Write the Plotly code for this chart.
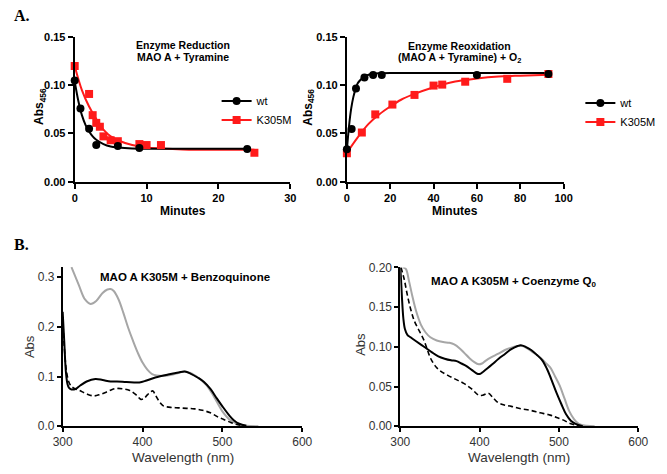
import plotly.graph_objects as go

W, H = 667, 474

# ---------------- Panel A1: Enzyme Reduction ----------------
red_wt_t = [0, 0.8, 2, 3, 6, 9, 24]
red_wt_abs = [0.105, 0.076, 0.055, 0.038, 0.037, 0.035, 0.034]
red_k_t = [0, 2, 2.5, 3, 3.5, 4, 5, 6, 9, 10, 12, 25]
red_k_abs = [0.120, 0.091, 0.069, 0.061, 0.057, 0.047, 0.043, 0.042, 0.039, 0.038, 0.038, 0.030]
red_wt_fit_t = [0, 0.5, 1, 1.5, 2, 2.5, 3, 4, 5, 6, 8, 12, 24]
red_wt_fit = [0.104, 0.084, 0.069, 0.059, 0.052, 0.047, 0.0435, 0.039, 0.0365, 0.0355, 0.0345, 0.0342, 0.0342]
red_k_fit_t = [0, 1, 2, 3, 4, 5, 6, 8, 10, 12, 15, 20, 25]
red_k_fit = [0.120, 0.095, 0.078, 0.065, 0.054, 0.047, 0.043, 0.038, 0.0355, 0.0345, 0.0335, 0.033, 0.033]

# ---------------- Panel A2: Enzyme Reoxidation ----------------
ox_wt_t = [0, 2.2, 4.2, 8.1, 12.1, 16.1, 60, 93]
ox_wt_abs = [0.0336, 0.0547, 0.0966, 0.108, 0.1107, 0.1107, 0.1107, 0.1117]
ox_k_t = [0, 6.9, 13.1, 21, 31.2, 40, 44, 54.6, 74, 93]
ox_k_abs = [0.0295, 0.051, 0.0698, 0.080, 0.090, 0.0997, 0.1007, 0.1037, 0.1067, 0.1117]
ox_wt_fit_t = [0, 1, 2, 3, 4, 5, 6, 8, 10, 12, 16, 20, 40, 60, 93]
ox_wt_fit = [0.033, 0.058, 0.076, 0.088, 0.096, 0.102, 0.105, 0.109, 0.111, 0.112, 0.1125, 0.1128, 0.1128, 0.1128, 0.1128]
ox_k_fit_t = [0, 5, 10, 15, 20, 25, 30, 40, 50, 60, 70, 80, 93]
ox_k_fit = [0.030, 0.046, 0.060, 0.070, 0.078, 0.085, 0.090, 0.098, 0.104, 0.107, 0.109, 0.110, 0.111]

# ---------------- Panel B1: K305M + Benzoquinone ----------------
bq_grey_wl = [311, 320, 328, 335, 342, 350, 356, 360, 364, 370, 376, 382, 388, 394, 400, 406, 412,
              418, 425, 435, 445, 452, 460, 470, 480, 490, 500, 510, 520, 530, 545]
bq_grey = [0.32, 0.285, 0.255, 0.246, 0.252, 0.268, 0.275, 0.276, 0.272, 0.255, 0.228, 0.198, 0.172,
           0.148, 0.128, 0.114, 0.105, 0.102, 0.101, 0.103, 0.107, 0.110, 0.107, 0.097, 0.083, 0.058,
           0.030, 0.012, 0.004, 0.001, 0.0]
bq_black_wl = [300, 302, 304, 306, 308, 311, 316, 322, 330, 341, 350, 360, 368, 380, 396, 405, 416,
               432, 445, 453, 460, 470, 477, 485, 493, 500, 509, 515, 521, 530]
bq_black = [0.23, 0.17, 0.11, 0.085, 0.077, 0.074, 0.075, 0.082, 0.090, 0.095, 0.093, 0.090, 0.090,
            0.089, 0.088, 0.092, 0.098, 0.104, 0.108, 0.110, 0.106, 0.097, 0.089, 0.075, 0.056, 0.040,
            0.021, 0.011, 0.005, 0.001]
bq_dash_wl = [300, 302, 305, 308, 311, 316, 321, 330, 339, 347, 355, 362, 368, 376, 384, 392, 398,
              402, 406, 410, 413, 416, 420, 426, 435, 445, 455, 465, 475, 485, 495, 501, 510, 517, 525]
bq_dash = [0.22, 0.16, 0.108, 0.088, 0.080, 0.075, 0.072, 0.065, 0.061, 0.064, 0.069, 0.074, 0.076,
           0.075, 0.072, 0.063, 0.054, 0.056, 0.063, 0.069, 0.071, 0.063, 0.052, 0.041, 0.038, 0.037,
           0.036, 0.035, 0.032, 0.027, 0.018, 0.014, 0.008, 0.004, 0.001]

# ---------------- Panel B2: K305M + Coenzyme Q0 ----------------
cq_grey_wl = [303, 307, 311, 315, 320, 326, 332, 338, 346, 354, 362, 368, 375, 381, 387, 393, 399,
              403, 407, 415, 423, 432, 440, 448, 454, 460, 466, 472, 478, 484, 489, 495, 501, 507,
              513, 519, 525, 535, 545]
cq_grey = [0.20, 0.198, 0.183, 0.165, 0.145, 0.128, 0.118, 0.112, 0.108, 0.106, 0.105, 0.103, 0.098,
           0.092, 0.086, 0.081, 0.078, 0.079, 0.082, 0.087, 0.091, 0.096, 0.099, 0.101, 0.101, 0.098,
           0.094, 0.090, 0.085, 0.079, 0.074, 0.063, 0.051, 0.035, 0.019, 0.009, 0.003, 0.0005, 0.0]
cq_black_wl = [300, 301, 302, 304, 306, 309, 313, 320, 330, 340, 348, 356, 364, 371, 377, 383, 390,
               397, 401, 405, 410, 416, 424, 432, 440, 448, 452, 458, 465, 472, 479, 485, 490, 497,
               503, 509, 515, 521, 530]
cq_black = [0.20, 0.185, 0.165, 0.135, 0.122, 0.115, 0.112, 0.107, 0.100, 0.093, 0.088, 0.085, 0.083,
            0.082, 0.079, 0.076, 0.071, 0.066, 0.066, 0.069, 0.073, 0.078, 0.085, 0.091, 0.097, 0.101,
            0.102, 0.100, 0.096, 0.090, 0.083, 0.072, 0.060, 0.042, 0.028, 0.015, 0.007, 0.003, 0.0]
cq_dash_wl = [301, 305, 309, 313, 318, 324, 330, 335, 338, 344, 350, 360, 370, 380, 390, 399, 404,
              411, 416, 423, 430, 440, 452, 464, 476, 489, 497, 505, 513, 521, 528]
cq_dash = [0.20, 0.185, 0.165, 0.148, 0.132, 0.120, 0.108, 0.094, 0.086, 0.076, 0.070, 0.064, 0.059,
           0.054, 0.047, 0.039, 0.039, 0.0415, 0.037, 0.030, 0.027, 0.025, 0.022, 0.020, 0.017, 0.014,
           0.011, 0.008, 0.004, 0.0015, 0.0]

series_names = ["wt", "K305M"]

RED = "#ff1a1a"
SANS = "Liberation Sans, Arial, sans-serif"
SERIF = "Liberation Serif, Times New Roman, serif"


def px(x):
    return x / W


def py(y):
    return 1 - y / H


fig = go.Figure()


def kinetic_panel(xa, ya, leg, wt_t, wt_v, wt_ft, wt_fv, k_t, k_v, k_ft, k_fv):
    fig.add_trace(go.Scatter(x=k_ft, y=k_fv, mode="lines", line=dict(color=RED, width=2, shape="spline"),
                             showlegend=False, xaxis=xa, yaxis=ya, hoverinfo="skip"))
    fig.add_trace(go.Scatter(x=wt_ft, y=wt_fv, mode="lines", line=dict(color="black", width=2, shape="spline"),
                             showlegend=False, xaxis=xa, yaxis=ya, hoverinfo="skip"))
    fig.add_trace(go.Scatter(x=k_t, y=k_v, mode="markers", name=series_names[1], showlegend=False,
                             marker=dict(symbol="square", size=8, color=RED),
                             xaxis=xa, yaxis=ya, cliponaxis=False))
    fig.add_trace(go.Scatter(x=wt_t, y=wt_v, mode="markers", name=series_names[0], showlegend=False,
                             marker=dict(symbol="circle", size=8, color="black"),
                             xaxis=xa, yaxis=ya, cliponaxis=False))
    # legend entries (line + symbol, as in the original key)
    fig.add_trace(go.Scatter(x=[None], y=[None], mode="lines+markers", name=series_names[0],
                             marker=dict(symbol="circle", size=8, color="black"),
                             line=dict(color="black", width=2), legend=leg, legendrank=1,
                             xaxis=xa, yaxis=ya))
    fig.add_trace(go.Scatter(x=[None], y=[None], mode="lines+markers", name=series_names[1],
                             marker=dict(symbol="square", size=8, color=RED),
                             line=dict(color=RED, width=2), legend=leg, legendrank=2,
                             xaxis=xa, yaxis=ya))


kinetic_panel("x", "y", "legend", red_wt_t, red_wt_abs, red_wt_fit_t, red_wt_fit,
              red_k_t, red_k_abs, red_k_fit_t, red_k_fit)
kinetic_panel("x2", "y2", "legend2", ox_wt_t, ox_wt_abs, ox_wt_fit_t, ox_wt_fit,
              ox_k_t, ox_k_abs, ox_k_fit_t, ox_k_fit)


def spectra_panel(xa, ya, gx, gy, dx, dy, bx, by):
    fig.add_trace(go.Scatter(x=gx, y=gy, mode="lines", line=dict(color="#a6a6a6", width=2, shape="spline"),
                             showlegend=False, xaxis=xa, yaxis=ya))
    fig.add_trace(go.Scatter(x=dx, y=dy, mode="lines",
                             line=dict(color="black", width=1.6, dash="5px,3px", shape="spline"),
                             showlegend=False, xaxis=xa, yaxis=ya))
    fig.add_trace(go.Scatter(x=bx, y=by, mode="lines", line=dict(color="black", width=2, shape="spline"),
                             showlegend=False, xaxis=xa, yaxis=ya))


spectra_panel("x3", "y3", bq_grey_wl, bq_grey, bq_dash_wl, bq_dash, bq_black_wl, bq_black)
spectra_panel("x4", "y4", cq_grey_wl, cq_grey, cq_dash_wl, cq_dash, cq_black_wl, cq_black)

top_tick = dict(family=SANS, size=11, color="black", weight="bold")
bot_tick = dict(family=SANS, size=12, color="#333333")

top_axis = dict(showgrid=False, zeroline=False, showline=True, linecolor="black", linewidth=2,
                ticks="outside", ticklen=5, tickwidth=2, tickcolor="black", tickfont=top_tick)
bot_axis = dict(showgrid=False, zeroline=False, showline=True, linecolor="black", linewidth=1.6,
                ticks="outside", ticklen=4, tickwidth=1.6, tickcolor="black", tickfont=bot_tick)

ytop = [py(180), py(31)]
ybot = [py(432), py(267.7)]
ybot4 = [py(432), py(268.3)]

legend_style = dict(xanchor="left", yanchor="top", bgcolor="rgba(0,0,0,0)",
                    font=dict(family=SANS, size=11, color="black"), tracegroupgap=3, itemsizing="trace")

fig.update_layout(
    width=W, height=H,
    margin=dict(l=0, r=0, t=0, b=0),
    paper_bgcolor="white", plot_bgcolor="white",
    xaxis=dict(**top_axis, domain=[px(66.7), px(289)], range=[0, 30], tickvals=[0, 10, 20, 30], anchor="y"),
    yaxis=dict(**top_axis, domain=ytop, range=[0, 0.15], tickvals=[0, 0.05, 0.10, 0.15],
               tickformat=".2f", anchor="x"),
    xaxis2=dict(**top_axis, domain=[px(347.3), px(570.7)], range=[0, 100],
                tickvals=[0, 20, 40, 60, 80, 100], anchor="y2"),
    yaxis2=dict(**top_axis, domain=ytop, range=[0, 0.15], tickvals=[0, 0.05, 0.10, 0.15],
                tickformat=".2f", anchor="x2"),
    xaxis3=dict(**bot_axis, domain=[px(54.3), px(301.3)], range=[300, 600],
                tickvals=[300, 400, 500, 600], anchor="y3"),
    yaxis3=dict(**bot_axis, domain=ybot, range=[0, 0.3207], tickvals=[0, 0.1, 0.2, 0.3],
                tickformat=".1f", anchor="x3"),
    xaxis4=dict(**bot_axis, domain=[px(402.3), px(647.7)], range=[300, 600],
                tickvals=[300, 400, 500, 600], anchor="y4"),
    yaxis4=dict(**bot_axis, domain=ybot4, range=[0, 0.20], tickvals=[0, 0.05, 0.10, 0.15, 0.20],
                tickformat=".2f", anchor="x4"),
    legend=dict(x=px(213), y=py(82), **legend_style),
    legend2=dict(x=px(588), y=py(84), **legend_style),
)

ann = []


def add_text(text, x, y, size, bold=False, family=SANS, angle=0, xanchor="center", color="black"):
    ann.append(dict(text=text, x=px(x), y=py(y), xref="paper", yref="paper", showarrow=False,
                    xanchor=xanchor, yanchor="middle", textangle=angle, borderpad=0,
                    font=dict(family=family, size=size, color=color, weight="bold" if bold else "normal")))


# panel labels
add_text("A.", 3, 9, 16, bold=True, family=SERIF, xanchor="left")
add_text("B.", 3, 245, 16, bold=True, family=SERIF, xanchor="left")

# top titles
add_text("Enzyme Reduction", 178, 39, 10.5, bold=True)
add_text("MAO A + Tyramine", 178, 52, 10.5, bold=True)
add_text("Enzyme Reoxidation", 463, 40, 10.5, bold=True)
add_text("(MAO A + Tyramine) + O<sub>2</sub>", 463, 53, 10.5, bold=True)

# top axis titles
add_text("Minutes", 178, 210, 12, bold=True)
add_text("Minutes", 459, 210, 12, bold=True)
add_text("Abs<sub>456</sub>", 31, 103, 12, bold=True, angle=-90)
add_text("Abs<sub>456</sub>", 308, 103, 12, bold=True, angle=-90)

# bottom titles
add_text("MAO A K305M + Benzoquinone", 180, 278, 11.5, bold=True)
add_text("MAO A K305M + Coenzyme Q<sub>0</sub>", 520, 283, 11.5, bold=True)

# bottom axis titles
add_text("Wavelength (nm)", 178, 464, 13.5, color="#333333")
add_text("Wavelength (nm)", 525, 464, 13.5, color="#333333")
add_text("Abs", 20, 350, 13, angle=-90, color="#333333")
add_text("Abs", 362, 348, 13, angle=-90, color="#333333")

fig.update_layout(annotations=ann)

fig.write_html("out.html", config={"displayModeBar": False},
               post_script="document.body.style.margin='0px';")
